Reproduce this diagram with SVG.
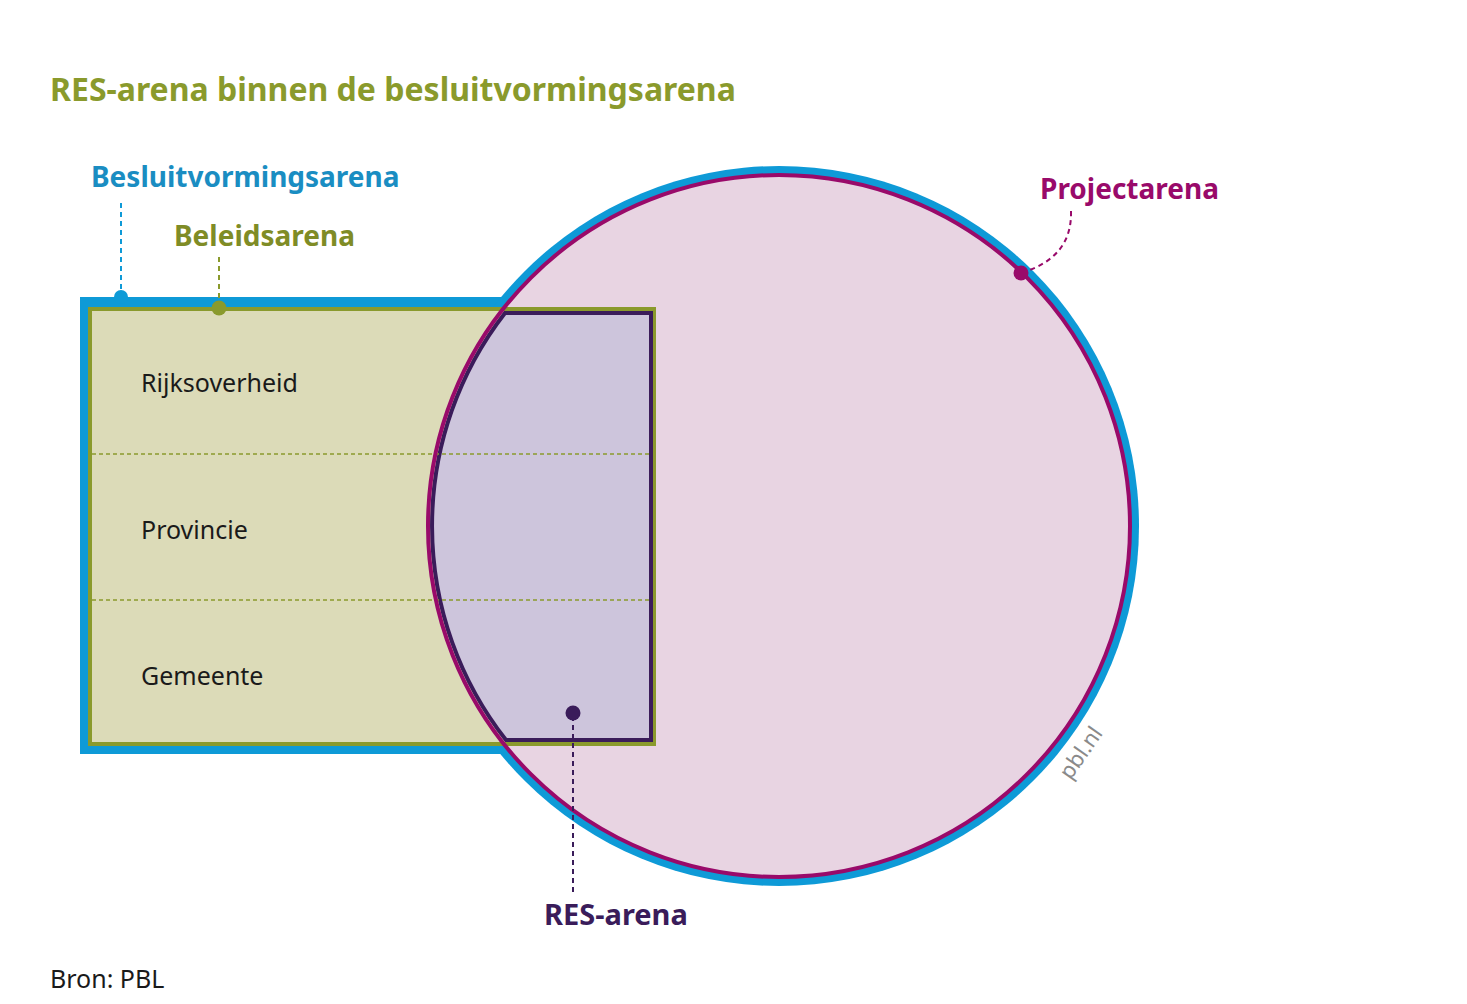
<svg xmlns="http://www.w3.org/2000/svg" width="1467" height="1004" viewBox="0 0 1467 1004">
<style>
.t{font-family:"Noto Sans","Open Sans","DejaVu Sans",sans-serif;font-weight:bold;}
.r{font-family:"Noto Sans","Open Sans","DejaVu Sans",sans-serif;font-size:25px;fill:#1a1a1a;}
.lead{fill:none;stroke-width:2;stroke-dasharray:5 4;}
</style>
<rect width="1467" height="1004" fill="#ffffff"/>
<text class="t" x="50" y="101" font-size="32" fill="#8a9a2c">RES-arena binnen de besluitvormingsarena</text>
<g id="besluitvormingsarena">
<rect x="80" y="297" width="460" height="457" fill="#0e9ad7"/>
<circle cx="779" cy="526" r="360" fill="#0e9ad7"/>
</g>
<g id="projectarena">
<circle cx="779" cy="526" r="351" fill="#e8d4e2"/>
</g>
<g id="beleidsarena">
<rect x="90" y="309" width="564" height="435" fill="#dcdbb8" stroke="#8a9a2c" stroke-width="4"/>
</g>
<g id="res-arena">
<path d="M 505 313 L 651 313 L 651 740 L 506 740 A 347 347 0 0 1 505 313 Z" fill="#cdc5dc" stroke="#3a1c5a" stroke-width="4"/>
</g>
<g id="dividers">
<line x1="92" y1="454" x2="650" y2="454" stroke="#8a9a2c" stroke-width="1.5" stroke-dasharray="4 3"/>
<line x1="92" y1="600" x2="650" y2="600" stroke="#8a9a2c" stroke-width="1.5" stroke-dasharray="4 3"/>
</g>
<circle cx="779" cy="526" r="351" fill="none" stroke="#990a6a" stroke-width="4"/>
<g id="levels">
<text class="r" x="141" y="392">Rijksoverheid</text>
<text class="r" x="141" y="539">Provincie</text>
<text class="r" x="141" y="685">Gemeente</text>
</g>
<g id="connectors">
<line class="lead" x1="121" y1="203" x2="121" y2="294" stroke="#0e9ad7"/>
<circle cx="121" cy="297" r="7" fill="#0e9ad7"/>
<line class="lead" x1="219" y1="257" x2="219" y2="305" stroke="#8a9a2c"/>
<circle cx="219" cy="308" r="7.5" fill="#8a9a2c"/>
<path class="lead" d="M 1071 211 C 1072 245 1052 263 1024 272" stroke="#990a6a"/>
<circle cx="1021" cy="273" r="7.5" fill="#990a6a"/>
<line class="lead" x1="573" y1="716" x2="573" y2="892" stroke="#3a1c5a"/>
<circle cx="573" cy="713" r="7.5" fill="#3a1c5a"/>
</g>
<g id="labels">
<text class="t" x="91" y="187" font-size="28" fill="#1a8dc2">Besluitvormingsarena</text>
<text class="t" x="174" y="246" font-size="28" fill="#7f8c26">Beleidsarena</text>
<text class="t" x="1040" y="199" font-size="28" fill="#990a6a">Projectarena</text>
<text class="t" x="544" y="925" font-size="29" fill="#3a1c5a">RES-arena</text>
</g>
<text x="1087" y="757" font-family="Noto Sans,Open Sans,sans-serif" font-size="22" fill="#8a8a8a" text-anchor="middle" transform="rotate(-55 1087 757)">pbl.nl</text>
<text class="r" x="50" y="988" font-size="24">Bron: PBL</text>
</svg>
